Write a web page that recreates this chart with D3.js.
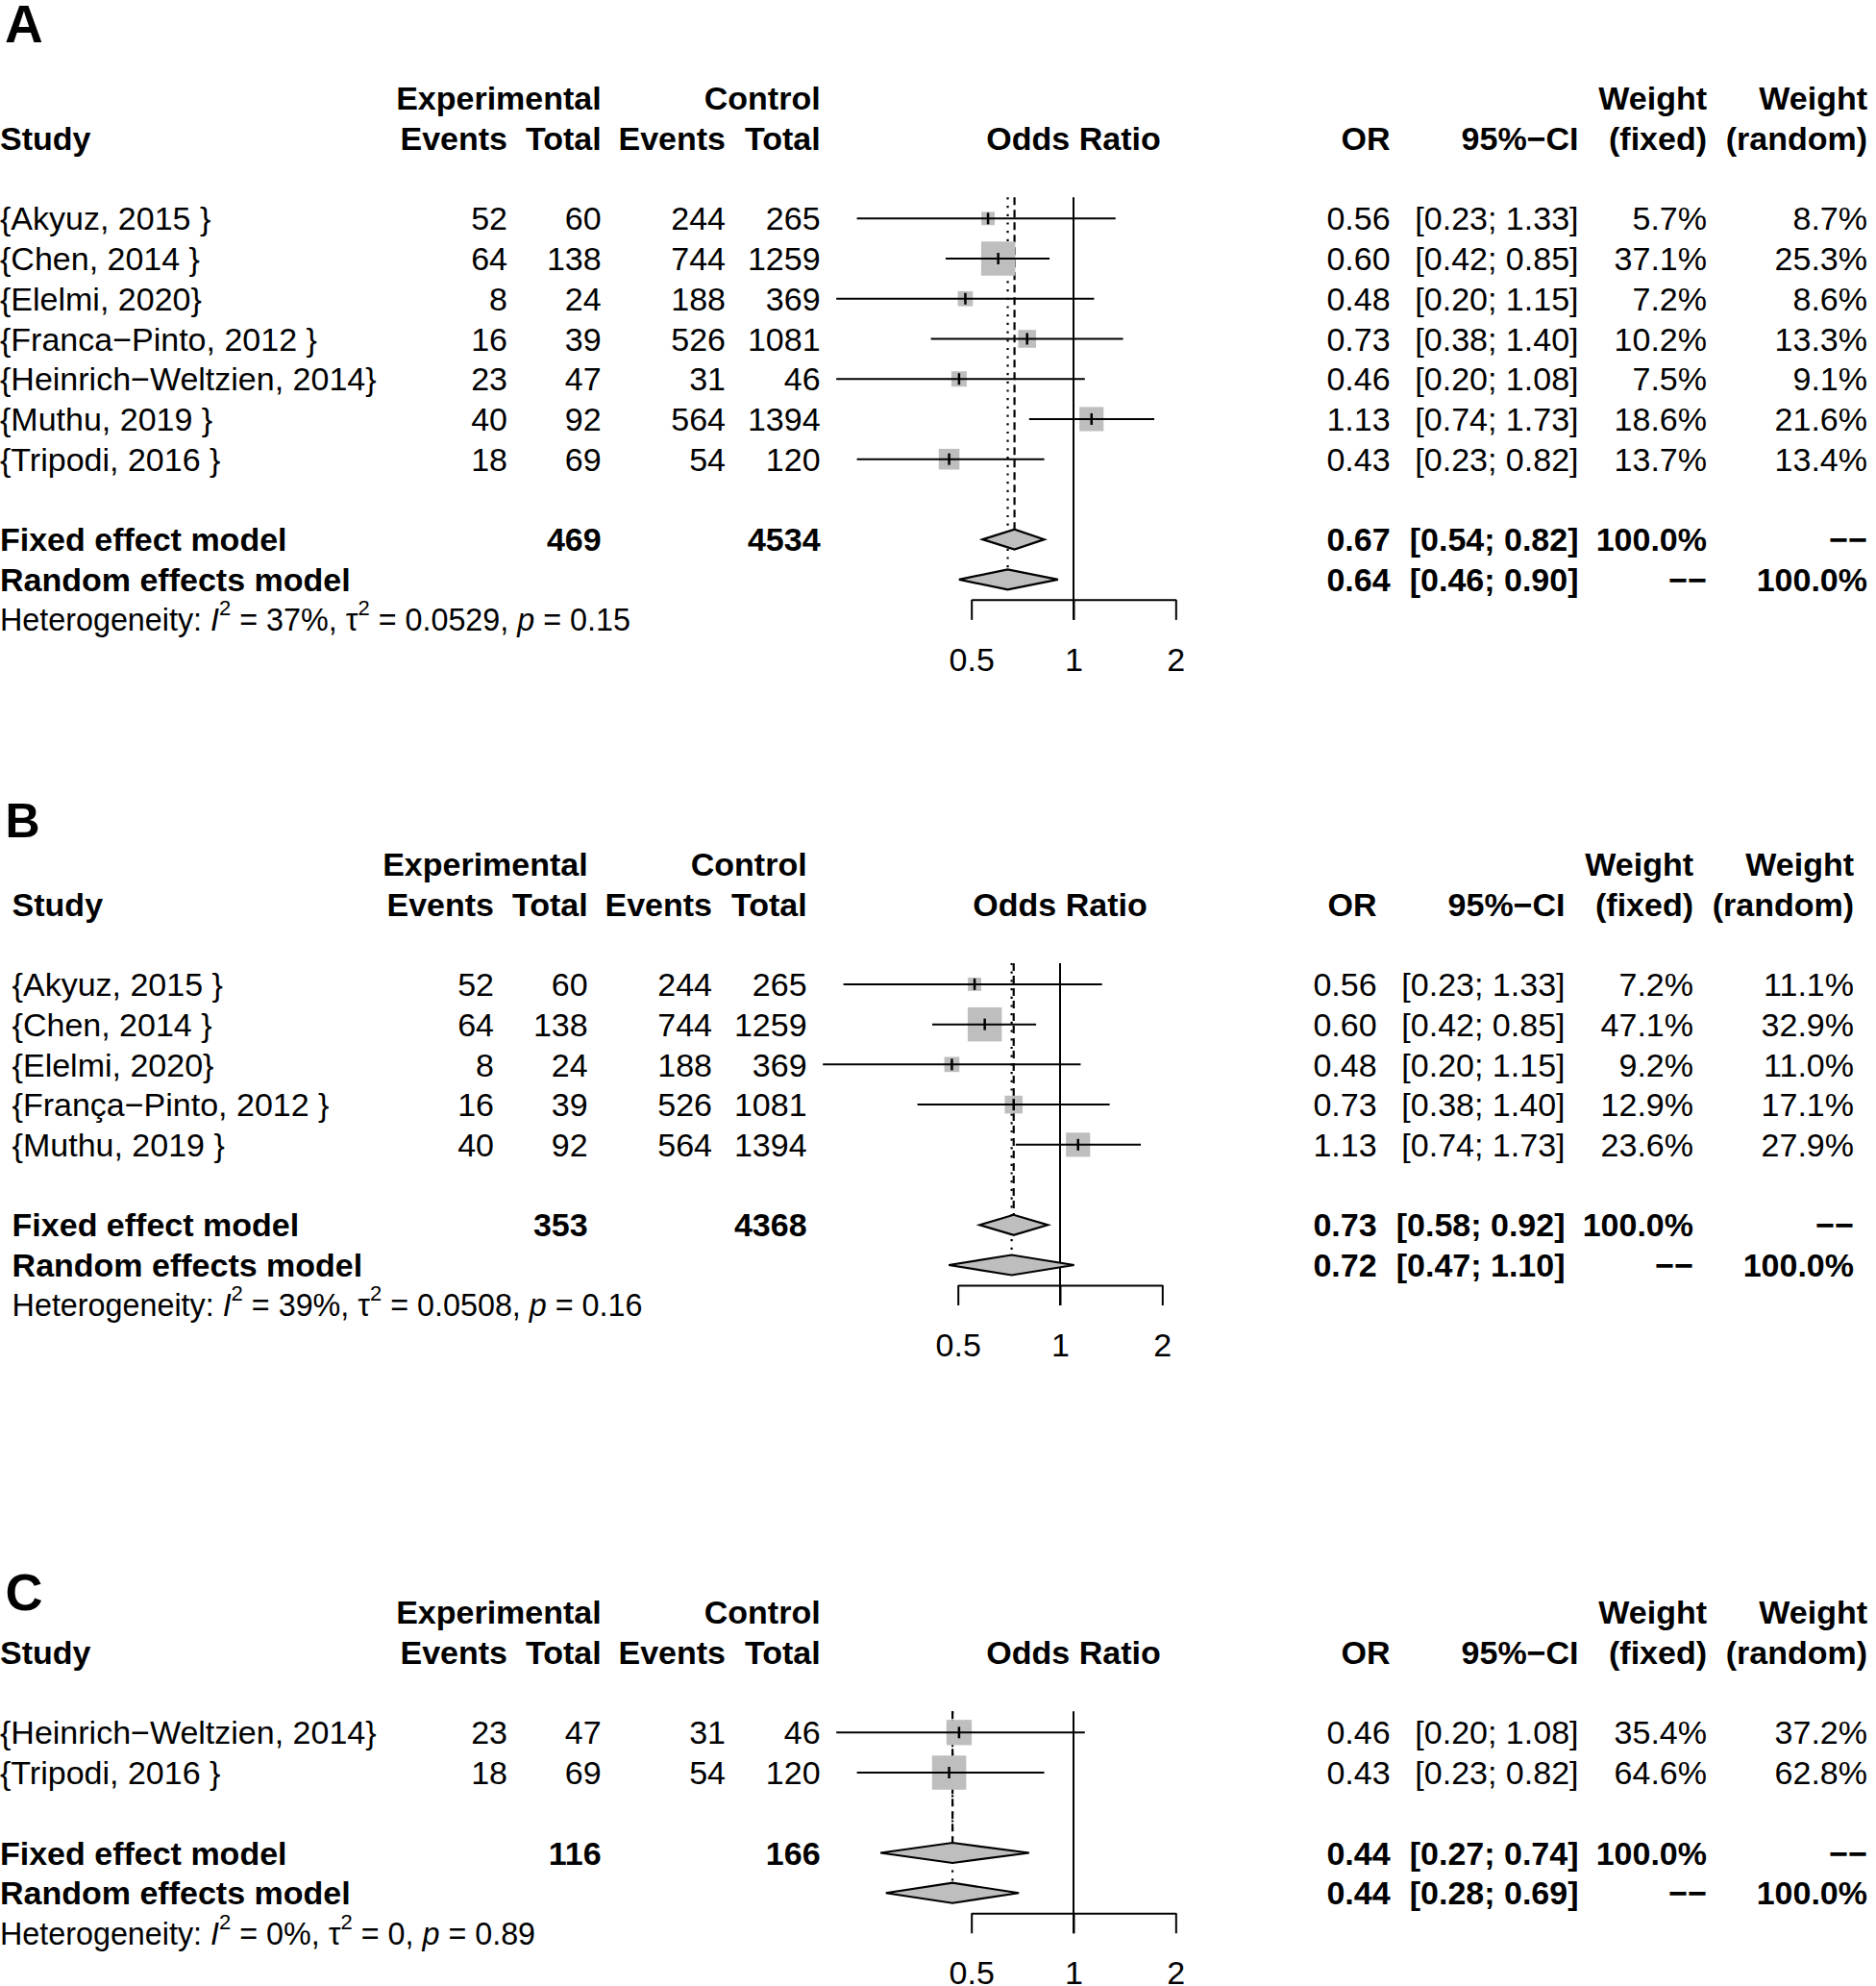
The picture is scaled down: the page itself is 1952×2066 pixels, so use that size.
<!DOCTYPE html>
<html><head><meta charset="utf-8">
<script src="https://cdn.jsdelivr.net/npm/d3@7"></script>
<style>
body{margin:0;background:#fff}
text{font-family:"Liberation Sans",Arial,Helvetica,sans-serif;fill:#000}
</style>
</head><body>
<svg id="c" width="1952" height="2066"></svg>
<script>
// ---------- DATA ----------
const panelLabels = ["A", "B", "C"];
const tickValues = [0.5, 1, 2];
const tickLabels = ["0.5", "1", "2"];

// Panel A
const studiesA = ["{Akyuz, 2015 }", "{Chen, 2014 }", "{Elelmi, 2020}", "{Franca\u2212Pinto, 2012 }", "{Heinrich\u2212Weltzien, 2014}", "{Muthu, 2019 }", "{Tripodi, 2016 }"];
const expEventsA = [52, 64, 8, 16, 23, 40, 18];
const expTotalA = [60, 138, 24, 39, 47, 92, 69];
const ctrlEventsA = [244, 744, 188, 526, 31, 564, 54];
const ctrlTotalA = [265, 1259, 369, 1081, 46, 1394, 120];
const orA = [0.56, 0.60, 0.48, 0.73, 0.46, 1.13, 0.43];
const ciLowA = [0.23, 0.42, 0.20, 0.38, 0.20, 0.74, 0.23];
const ciHighA = [1.33, 0.85, 1.15, 1.40, 1.08, 1.73, 0.82];
const wFixedA = [5.7, 37.1, 7.2, 10.2, 7.5, 18.6, 13.7];
const wRandomA = [8.7, 25.3, 8.6, 13.3, 9.1, 21.6, 13.4];
const sumOrA = [0.67, 0.64];      // fixed, random
const sumLowA = [0.54, 0.46];
const sumHighA = [0.82, 0.90];
const totalsA = [469, 4534];
const heteroA = ["37%", "0.0529", "0.15"];

// Panel B
const studiesB = ["{Akyuz, 2015 }", "{Chen, 2014 }", "{Elelmi, 2020}", "{Fran\u00e7a\u2212Pinto, 2012 }", "{Muthu, 2019 }"];
const expEventsB = [52, 64, 8, 16, 40];
const expTotalB = [60, 138, 24, 39, 92];
const ctrlEventsB = [244, 744, 188, 526, 564];
const ctrlTotalB = [265, 1259, 369, 1081, 1394];
const orB = [0.56, 0.60, 0.48, 0.73, 1.13];
const ciLowB = [0.23, 0.42, 0.20, 0.38, 0.74];
const ciHighB = [1.33, 0.85, 1.15, 1.40, 1.73];
const wFixedB = [7.2, 47.1, 9.2, 12.9, 23.6];
const wRandomB = [11.1, 32.9, 11.0, 17.1, 27.9];
const sumOrB = [0.73, 0.72];
const sumLowB = [0.58, 0.47];
const sumHighB = [0.92, 1.10];
const totalsB = [353, 4368];
const heteroB = ["39%", "0.0508", "0.16"];

// Panel C
const studiesC = ["{Heinrich\u2212Weltzien, 2014}", "{Tripodi, 2016 }"];
const expEventsC = [23, 18];
const expTotalC = [47, 69];
const ctrlEventsC = [31, 54];
const ctrlTotalC = [46, 120];
const orC = [0.46, 0.43];
const ciLowC = [0.20, 0.23];
const ciHighC = [1.08, 0.82];
const wFixedC = [35.4, 64.6];
const wRandomC = [37.2, 62.8];
const sumOrC = [0.44, 0.44];
const sumLowC = [0.27, 0.28];
const sumHighC = [0.74, 0.69];
const totalsC = [116, 166];
const heteroC = ["0%", "0", "0.89"];

const panels = [
  {studies: studiesA, expEv: expEventsA, expTot: expTotalA, ctrlEv: ctrlEventsA, ctrlTot: ctrlTotalA, or: orA, lo: ciLowA, hi: ciHighA, wf: wFixedA, wr: wRandomA, sOr: sumOrA, sLo: sumLowA, sHi: sumHighA, totals: totalsA, het: heteroA},
  {studies: studiesB, expEv: expEventsB, expTot: expTotalB, ctrlEv: ctrlEventsB, ctrlTot: ctrlTotalB, or: orB, lo: ciLowB, hi: ciHighB, wf: wFixedB, wr: wRandomB, sOr: sumOrB, sLo: sumLowB, sHi: sumHighB, totals: totalsB, het: heteroB},
  {studies: studiesC, expEv: expEventsC, expTot: expTotalC, ctrlEv: ctrlEventsC, ctrlTot: ctrlTotalC, or: orC, lo: ciLowC, hi: ciHighC, wf: wFixedC, wr: wRandomC, sOr: sumOrC, sLo: sumLowC, sHi: sumHighC, totals: totalsC, het: heteroC}
];

// ---------- LAYOUT ----------
const FS = 34, HFS = 32.3;
const rowH = 41.73;
const cols = {expEv: 528, expTot: 625.7, ctrlEv: 755, ctrlTot: 853.6, or: 1446.6, ci: 1642.5, wf: 1776, wr: 1943};
const layouts = [
  {dx: 0,   studyX: 0,    labelX: 5,   labelBase: 44,   labelFs: 55, row0: 227.3},
  {dx: -14, studyX: 12.6, labelX: 5.5, labelBase: 871,  labelFs: 50, row0: 1023.9},
  {dx: 0,   studyX: 0,    labelX: 5.5, labelBase: 1675, labelFs: 54, row0: 1802.3}
];
const DASH2 = "\u2212\u2212";

const svg = d3.select("#c");
svg.append("rect").attr("width", 1952).attr("height", 2066).attr("fill", "#fff");

const f2 = d3.format(".2f");
const f1 = d3.format(".1f");

function txt(g, x, yc, s, anchor, bold, fs) {
  fs = fs || FS;
  return g.append("text")
    .attr("x", x).attr("y", yc + 0.358 * fs)
    .attr("text-anchor", anchor || "start")
    .attr("font-weight", bold ? "bold" : "normal")
    .attr("font-size", fs)
    .text(s);
}

function drawPanel(p, L, label) {
  const g = svg.append("g");
  const n = p.studies.length;
  const yRow = i => L.row0 + i * rowH;
  const yH1 = L.row0 - 3 * rowH, yH2 = L.row0 - 2 * rowH;
  const yFix = yRow(n + 1), yRan = yRow(n + 2), yHet = yRow(n + 3);
  const axisY = yRan + 21;
  const c = k => cols[k] + L.dx;
  const x = d3.scaleLog().domain([0.5, 2]).range([1010.7 + L.dx, 1223.3 + L.dx]);

  // panel label
  g.append("text").attr("x", L.labelX).attr("y", L.labelBase)
    .attr("font-weight", "bold").attr("font-size", L.labelFs).text(label);

  // headers
  txt(g, c("expTot"), yH1, "Experimental", "end", true);
  txt(g, c("ctrlTot"), yH1, "Control", "end", true);
  txt(g, c("wf"), yH1, "Weight", "end", true);
  txt(g, c("wr"), yH1, "Weight", "end", true);
  txt(g, L.studyX, yH2, "Study", "start", true);
  txt(g, c("expEv"), yH2, "Events", "end", true);
  txt(g, c("expTot"), yH2, "Total", "end", true);
  txt(g, c("ctrlEv"), yH2, "Events", "end", true);
  txt(g, c("ctrlTot"), yH2, "Total", "end", true);
  txt(g, x(1), yH2, "Odds Ratio", "middle", true);
  txt(g, c("or"), yH2, "OR", "end", true);
  txt(g, c("ci"), yH2, "95%\u2212CI", "end", true);
  txt(g, c("wf"), yH2, "(fixed)", "end", true);
  txt(g, c("wr"), yH2, "(random)", "end", true);

  // study rows text
  p.studies.forEach((s, i) => {
    const y = yRow(i);
    txt(g, L.studyX, y, s, "start");
    txt(g, c("expEv"), y, p.expEv[i], "end");
    txt(g, c("expTot"), y, p.expTot[i], "end");
    txt(g, c("ctrlEv"), y, p.ctrlEv[i], "end");
    txt(g, c("ctrlTot"), y, p.ctrlTot[i], "end");
    txt(g, c("or"), y, f2(p.or[i]), "end");
    txt(g, c("ci"), y, "[" + f2(p.lo[i]) + "; " + f2(p.hi[i]) + "]", "end");
    txt(g, c("wf"), y, f1(p.wf[i]) + "%", "end");
    txt(g, c("wr"), y, f1(p.wr[i]) + "%", "end");
  });

  // summary rows
  const sumNames = ["Fixed effect model", "Random effects model"];
  [yFix, yRan].forEach((y, k) => {
    txt(g, L.studyX, y, sumNames[k], "start", true);
    txt(g, c("or"), y, f2(p.sOr[k]), "end", true);
    txt(g, c("ci"), y, "[" + f2(p.sLo[k]) + "; " + f2(p.sHi[k]) + "]", "end", true);
    txt(g, c("wf"), y, k === 0 ? "100.0%" : DASH2, "end", true);
    txt(g, c("wr"), y, k === 0 ? DASH2 : "100.0%", "end", true);
  });
  txt(g, c("expTot"), yFix, p.totals[0], "end", true);
  txt(g, c("ctrlTot"), yFix, p.totals[1], "end", true);

  // heterogeneity
  const h = g.append("text").attr("x", L.studyX).attr("y", yHet + 0.36 * HFS).attr("font-size", HFS);
  h.append("tspan").text("Heterogeneity: ");
  h.append("tspan").attr("font-style", "italic").text("I");
  h.append("tspan").attr("font-size", 22).attr("dy", -16).text("2");
  h.append("tspan").attr("dy", 16).text(" = " + p.het[0] + ", \u03c4");
  h.append("tspan").attr("font-size", 22).attr("dy", -16).text("2");
  h.append("tspan").attr("dy", 16).text(" = " + p.het[1] + ", ");
  h.append("tspan").attr("font-style", "italic").text("p");
  h.append("tspan").text(" = " + p.het[2]);

  // vertical lines
  const topY = yRow(0) - 22;
  g.append("line").attr("x1", x(1)).attr("x2", x(1)).attr("y1", topY).attr("y2", axisY + 21)
    .attr("stroke", "#000").attr("stroke-width", 2);
  g.append("line").attr("x1", x(p.sOr[0])).attr("x2", x(p.sOr[0])).attr("y1", topY).attr("y2", yFix - 10.5)
    .attr("stroke", "#000").attr("stroke-width", 2.2).attr("stroke-dasharray", "8,5");
  g.append("line").attr("x1", x(p.sOr[1])).attr("x2", x(p.sOr[1])).attr("y1", topY).attr("y2", yRan - 10.5)
    .attr("stroke", "#000").attr("stroke-width", 2.2).attr("stroke-dasharray", "2.2,6.5");

  // boxes
  const wmax = d3.max(p.wf);
  p.studies.forEach((s, i) => {
    const y = yRow(i);
    const side = 35.5 * Math.sqrt(p.wf[i] / wmax);
    g.append("rect").attr("x", x(p.or[i]) - side / 2).attr("y", y - side / 2)
      .attr("width", side).attr("height", side).attr("fill", "#bebebe");
  });
  // CI lines and point ticks
  p.studies.forEach((s, i) => {
    const y = yRow(i);
    g.append("line").attr("x1", x(p.lo[i])).attr("x2", x(p.hi[i])).attr("y1", y).attr("y2", y)
      .attr("stroke", "#000").attr("stroke-width", 2);
    g.append("line").attr("x1", x(p.or[i])).attr("x2", x(p.or[i])).attr("y1", y - 6).attr("y2", y + 6)
      .attr("stroke", "#000").attr("stroke-width", 2.5);
  });

  // diamonds
  [yFix, yRan].forEach((y, k) => {
    const pts = [[x(p.sLo[k]), y], [x(p.sOr[k]), y - 10.5], [x(p.sHi[k]), y], [x(p.sOr[k]), y + 10.5]];
    g.append("path").attr("d", "M" + pts.map(q => q.join(",")).join("L") + "Z")
      .attr("fill", "#bebebe").attr("stroke", "#000").attr("stroke-width", 2.2).attr("stroke-linejoin", "miter");
  });

  // axis
  const ax = d3.axisBottom(x).tickValues(tickValues).tickFormat((d, i) => tickLabels[i])
    .tickSize(21).tickSizeOuter(0).tickPadding(29);
  const ag = g.append("g").attr("transform", "translate(0," + axisY + ")").call(ax);
  ag.select(".domain").attr("stroke", "#000").attr("stroke-width", 2);
  ag.selectAll(".tick line").attr("stroke", "#000").attr("stroke-width", 2);
  ag.selectAll(".tick text").attr("font-size", FS).attr("fill", "#000")
    .attr("font-family", "'Liberation Sans',Arial,Helvetica,sans-serif");
}

panels.forEach((p, i) => drawPanel(p, layouts[i], panelLabels[i]));
</script>
</body></html>
